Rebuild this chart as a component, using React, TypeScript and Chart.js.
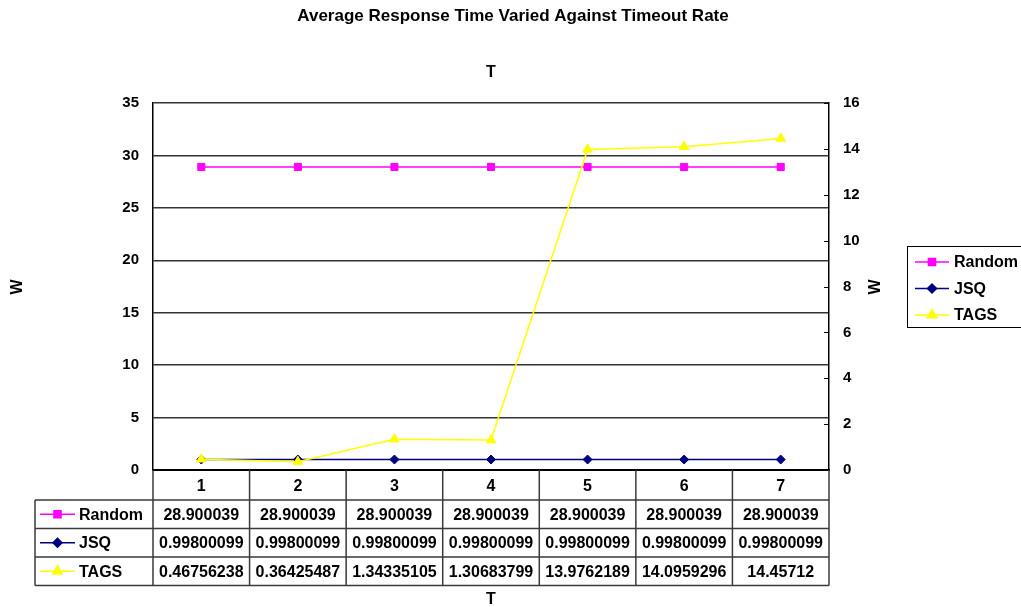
import { useEffect, useRef } from 'react';
import { Chart, registerables } from 'chart.js';
import { drawPoint } from 'chart.js/helpers';

Chart.register(...registerables);

const chartTitle = 'Average Response Time Varied Against Timeout Rate';
const xAxisTitle = 'T';
const yAxisTitle = 'W';
const categories = ['1', '2', '3', '4', '5', '6', '7'];
const seriesNames = ['Random', 'JSQ', 'TAGS'];
const randomValues = [28.900039, 28.900039, 28.900039, 28.900039, 28.900039, 28.900039, 28.900039];
const jsqValues = [0.99800099, 0.99800099, 0.99800099, 0.99800099, 0.99800099, 0.99800099, 0.99800099];
const tagsValues = [0.46756238, 0.36425487, 1.34335105, 1.30683799, 13.9762189, 14.0959296, 14.45712];
const leftAxis = { min: 0, max: 35, step: 5 };
const rightAxis = { min: 0, max: 16, step: 2 };

const FONT = 'Arial, "Liberation Sans", sans-serif';
const seriesStyles = [
  { color: '#FF00FF', pointStyle: 'rect', radius: 5, axis: 'y' },
  { color: '#000080', pointStyle: 'rectRot', radius: 4.5, axis: 'y' },
  { color: '#FFFF00', pointStyle: 'triangle', radius: 5.5, axis: 'y2' },
];
const seriesValues = [randomValues, jsqValues, tagsValues];

function sample(ctx: CanvasRenderingContext2D, idx: number, x0: number, x1: number, y: number) {
  const st = seriesStyles[idx];
  ctx.save();
  ctx.strokeStyle = st.color;
  ctx.fillStyle = st.color;
  ctx.lineWidth = 1.5;
  ctx.beginPath();
  ctx.moveTo(x0, y);
  ctx.lineTo(x1, y);
  ctx.stroke();
  drawPoint(ctx, { pointStyle: st.pointStyle as any, radius: st.radius, rotation: 0, borderWidth: 1 }, (x0 + x1) / 2, y);
  ctx.restore();
}

const decorPlugin = {
  id: 'decor',
  afterDraw(chart: any) {
    const { ctx, chartArea: ca, scales } = chart;
    const y2 = scales.y2;
    ctx.save();
    ctx.fillStyle = '#000';
    ctx.textAlign = 'center';
    ctx.textBaseline = 'middle';
    ctx.font = `bold 17px ${FONT}`;
    ctx.fillText(chartTitle, 513, 16);
    ctx.font = `bold 16px ${FONT}`;
    const cx = (ca.left + ca.right) / 2;
    ctx.fillText(xAxisTitle, cx, 73);
    ctx.fillText(xAxisTitle, cx, 600);
    // rotated W titles
    for (const wx of [18, 876]) {
      ctx.save();
      ctx.translate(wx, 287);
      ctx.rotate(-Math.PI / 2);
      ctx.fillText(yAxisTitle, 0, 0);
      ctx.restore();
    }
    // inner tick marks on right axis
    ctx.strokeStyle = '#000';
    ctx.lineWidth = 1;
    ctx.beginPath();
    y2.ticks.forEach((_: any, i: number) => {
      const py = Math.round(y2.getPixelForTick(i)) + 0.5;
      ctx.moveTo(ca.right - 5, py);
      ctx.lineTo(ca.right, py);
    });
    ctx.stroke();

    // data table
    const n = categories.length;
    const colW = (ca.right - ca.left) / n;
    const headerBottom = ca.bottom + 30;
    const rowH = 28.5;
    const tableLeft = 35;
    const tableBottom = headerBottom + rowH * seriesNames.length;
    ctx.strokeStyle = '#3a3a3a';
    ctx.lineWidth = 1.5;
    ctx.beginPath();
    for (let i = 0; i <= n; i++) {
      const px = ca.left + i * colW;
      ctx.moveTo(px, ca.bottom);
      ctx.lineTo(px, tableBottom);
    }
    ctx.moveTo(tableLeft, headerBottom);
    ctx.lineTo(tableLeft, tableBottom);
    for (let r = 0; r <= seriesNames.length; r++) {
      const py = headerBottom + r * rowH;
      ctx.moveTo(tableLeft, py);
      ctx.lineTo(ca.right, py);
    }
    ctx.stroke();

    ctx.font = `bold 16px ${FONT}`;
    seriesNames.forEach((name, r) => {
      const cy = headerBottom + r * rowH + rowH / 2;
      sample(ctx, r, 40, 75, cy);
      ctx.fillStyle = '#000';
      ctx.textAlign = 'left';
      ctx.fillText(name, 79, cy + 1);
      ctx.textAlign = 'center';
      seriesValues[r].forEach((v, i) => {
        ctx.fillText(String(v), ca.left + (i + 0.5) * colW, cy + 1);
      });
    });

    // legend
    ctx.fillStyle = '#fff';
    ctx.fillRect(907.5, 246.5, 130, 81);
    ctx.strokeStyle = '#000';
    ctx.lineWidth = 1;
    ctx.strokeRect(907.5, 246.5, 130, 81);
    const ly = [262, 288.5, 315];
    seriesNames.forEach((name, r) => {
      sample(ctx, r, 915, 949, ly[r]);
      ctx.fillStyle = '#000';
      ctx.textAlign = 'left';
      ctx.fillText(name, 954, ly[r] + 1);
    });
    ctx.restore();
  },
};

export default function App() {
  const ref = useRef<HTMLCanvasElement>(null);
  useEffect(() => {
    const chart = new Chart(ref.current!, {
      type: 'line',
      data: {
        labels: categories,
        datasets: seriesNames.map((name, i) => ({
          label: name,
          data: seriesValues[i],
          yAxisID: seriesStyles[i].axis,
          borderColor: seriesStyles[i].color,
          backgroundColor: seriesStyles[i].color,
          pointBackgroundColor: seriesStyles[i].color,
          pointBorderColor: seriesStyles[i].color,
          pointStyle: seriesStyles[i].pointStyle as any,
          pointRadius: seriesStyles[i].radius,
          pointBorderWidth: 1,
          borderWidth: 1.5,
          tension: 0,
          order: 2 - i,
        })),
      },
      options: {
        responsive: false,
        animation: false,
        devicePixelRatio: 1,
        layout: { padding: { top: 103, left: 0, right: 0, bottom: 0 } },
        plugins: { legend: { display: false }, title: { display: false }, tooltip: { enabled: false } },
        scales: {
          x: {
            type: 'category',
            offset: true,
            grid: { display: false, drawTicks: false, offset: true },
            border: { display: true, color: '#000', width: 2 },
            ticks: { color: '#000', font: { family: FONT, size: 16, weight: 'bold' }, padding: 7, maxRotation: 0 },
            afterFit: (s: any) => { s.height = 137; },
          },
          y: {
            position: 'left',
            min: leftAxis.min,
            max: leftAxis.max,
            grid: { color: '#333', lineWidth: 1.5, drawTicks: false },
            border: { display: true, color: '#000', width: 1.5 },
            ticks: { stepSize: leftAxis.step, color: '#000', font: { family: FONT, size: 15, weight: 'bold' }, padding: 14 },
            afterFit: (s: any) => { s.width = 153; },
          },
          y2: {
            position: 'right',
            min: rightAxis.min,
            max: rightAxis.max,
            grid: { display: false, drawTicks: false },
            border: { display: true, color: '#000', width: 1.5 },
            ticks: { stepSize: rightAxis.step, color: '#000', font: { family: FONT, size: 15, weight: 'bold' }, padding: 14 },
            afterFit: (s: any) => { s.width = 192; },
          },
        },
      },
      plugins: [decorPlugin],
    } as any);
    return () => chart.destroy();
  }, []);
  return (
    <div style={{ position: 'absolute', left: 0, top: 0, width: 1021, height: 607, background: '#fff' }}>
      <canvas ref={ref} width={1021} height={607} style={{ display: 'block', width: 1021, height: 607 }} />
    </div>
  );
}
